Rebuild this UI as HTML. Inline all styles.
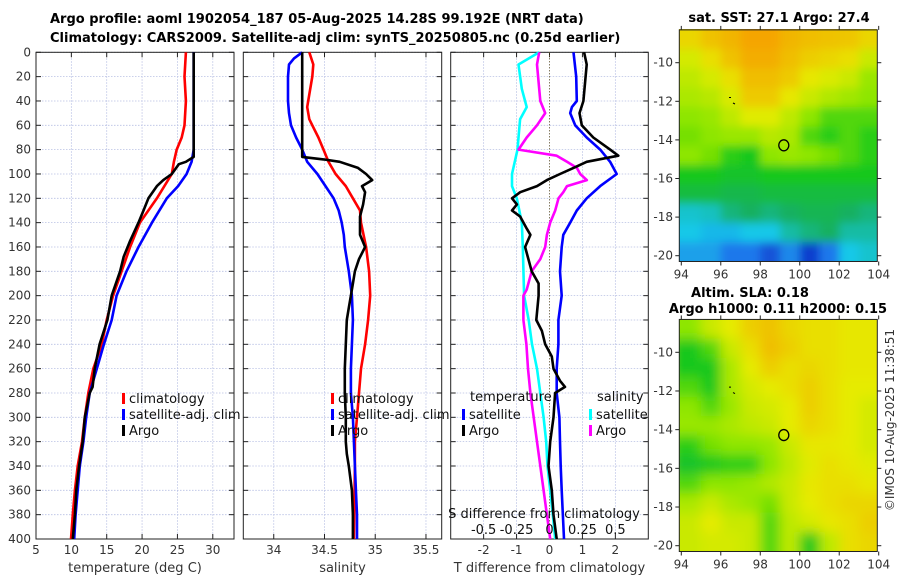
<!DOCTYPE html>
<html><head><meta charset="utf-8"><style>
html,body{margin:0;padding:0;background:#fff;}
svg{display:block;font-family:"DejaVu Sans","Liberation Sans",sans-serif;}
</style></head><body>
<svg id="fig" width="900" height="580" viewBox="0 0 900 580" xmlns="http://www.w3.org/2000/svg">
<defs>
<filter id="blur2" x="0" y="0" width="1" height="1"><feGaussianBlur stdDeviation="6"/></filter>
<filter id="blur1" x="0" y="0" width="1" height="1"><feGaussianBlur stdDeviation="4.5"/></filter>
<clipPath id="clipM1"><rect x="679" y="29" width="198" height="232"/></clipPath>
<clipPath id="clipM2"><rect x="679" y="319" width="198" height="232"/></clipPath>
</defs>
<g font-weight="bold" font-size="13" fill="#000">
<text x="50" y="23">Argo profile: aoml 1902054_187 05-Aug-2025 14.28S 99.192E (NRT data)</text>
<text x="50" y="42">Climatology: CARS2009. Satellite-adj clim: synTS_20250805.nc (0.25d earlier)</text>
<text x="779" y="22" text-anchor="middle">sat. SST: 27.1 Argo: 27.4</text>
<text x="750" y="297" text-anchor="middle">Altim. SLA: 0.18</text>
<text x="778" y="313" text-anchor="middle">Argo h1000: 0.11 h2000: 0.15</text>
</g>
<text transform="translate(894,420) rotate(-90)" text-anchor="middle" font-size="12" fill="#333">©IMOS 10-Aug-2025 11:38:51</text>
<g id="plots"></g>
</svg>
<script>
// ---------- Panel 1: temperature ----------
const tClimDepth=[0,20,40,60,70,80,90,100,120,140,160,180,200,220,240,260,280,300,320,340,360,380,400];
const tClim=[26.2,26.0,26.2,26.0,25.6,24.9,24.5,24.2,22.1,19.7,18.3,17.1,15.9,15.0,14.3,13.1,12.4,11.9,11.5,10.9,10.5,10.2,9.95];
const tSatDepth=[0,80,90,100,110,120,140,160,180,200,220,240,260,280,300,320,340,360,380,400];
const tSat=[27.3,27.3,27.0,26.3,25.1,23.5,21.4,19.5,17.8,16.4,15.7,14.6,13.6,12.6,12.1,11.7,11.2,10.9,10.6,10.4];
const tArgoDepth=[0,86,90,92,100,105,110,120,130,140,155,168,180,200,220,240,260,275,280,300,320,340,360,380,400];
const tArgo=[27.3,27.3,26.2,25.2,24.2,23.0,22.1,20.9,20.2,19.5,18.3,17.4,16.9,15.7,15.1,14.0,13.3,13.0,12.6,11.9,11.6,11.1,10.7,10.5,10.2];
const tTicks=[5,10,15,20,25,30];
// ---------- Panel 2: salinity ----------
const sClimDepth=[0,10,20,40,45,55,60,70,80,90,100,110,120,130,140,160,180,200,220,240,260,280,300,320,340,400];
const sClim=[34.35,34.39,34.38,34.34,34.33,34.35,34.38,34.44,34.49,34.54,34.61,34.71,34.78,34.85,34.86,34.91,34.94,34.95,34.93,34.90,34.86,34.84,34.82,34.80,34.80,34.79];
const sSatDepth=[0,5,10,20,40,50,60,70,80,90,100,110,120,130,140,150,160,180,200,220,240,260,280,300,320,340,360,380,400];
const sSat=[34.28,34.20,34.15,34.14,34.14,34.15,34.17,34.22,34.28,34.33,34.43,34.51,34.59,34.64,34.67,34.69,34.70,34.74,34.77,34.78,34.77,34.76,34.76,34.78,34.79,34.80,34.81,34.82,34.82];
const sArgoDepth=[0,86,88,90,95,100,105,110,115,125,135,150,160,170,180,190,200,210,220,240,260,280,300,320,330,340,360,380,400];
const sArgo=[34.28,34.28,34.49,34.65,34.83,34.91,34.97,34.87,34.90,34.88,34.85,34.85,34.90,34.84,34.80,34.78,34.76,34.74,34.72,34.71,34.70,34.70,34.71,34.71,34.72,34.74,34.77,34.78,34.78];
const sTicks=[34,34.5,35,35.5];
// ---------- Panel 3: differences ----------
const dTArgoDepth=[0,10,40,50,60,70,80,85,90,95,100,105,110,115,120,125,130,135,145,150,160,170,180,190,200,220,229,240,250,260,270,275,280,300,320,340,360,380,400];
const dTArgo=[1.05,1.13,1.03,0.91,0.98,1.33,1.84,2.09,1.13,0.73,0.32,-0.08,-0.38,-0.89,-1.14,-0.99,-1.14,-0.89,-0.69,-0.58,-0.74,-0.64,-0.54,-0.33,-0.33,-0.40,-0.23,-0.13,0.07,0.12,0.32,0.47,0.17,0.12,0.02,-0.03,0.07,0.12,0.22];
const dTSatDepth=[0,20,40,45,50,60,70,80,90,100,110,120,130,140,150,160,180,200,220,240,260,280,300,320,340,360,400];
const dTSat=[0.73,0.81,0.83,0.68,0.63,0.78,1.13,1.54,1.84,2.04,1.54,1.13,0.83,0.63,0.42,0.37,0.32,0.37,0.27,0.27,0.22,0.22,0.30,0.32,0.34,0.37,0.44];
const dSSatDepth=[0,10,30,45,55,70,80,100,110,120,140,160,200,220,240,260,280,300,320,340,360,380,400];
const dSSat=[-0.078,-0.235,-0.21,-0.173,-0.223,-0.235,-0.243,-0.285,-0.285,-0.248,-0.21,-0.203,-0.193,-0.158,-0.133,-0.095,-0.07,-0.045,-0.025,-0.015,0.005,0.025,0.043];
const dSArgoDepth=[0,10,40,50,60,70,80,85,90,95,100,105,110,115,120,130,140,150,160,170,180,195,200,220,240,260,280,300,320,340,360,380,400];
const dSArgo=[-0.078,-0.095,-0.07,-0.033,-0.095,-0.173,-0.235,0.055,0.133,0.208,0.233,0.283,0.133,0.105,0.068,0.043,0.005,-0.02,-0.033,-0.07,-0.135,-0.173,-0.198,-0.198,-0.175,-0.163,-0.145,-0.12,-0.095,-0.07,-0.045,-0.02,0.005];
const dTTicks=[-2,-1,0,1,2];
const dSTicks=[-0.5,-0.25,0,0.25,0.5];
const dSTickLabels=["-0.5","-0.25","0","0.25","0.5"];
const depthTicks=[0,20,40,60,80,100,120,140,160,180,200,220,240,260,280,300,320,340,360,380,400];
// ---------- Maps ----------
const sstGrid=[
[0.8,0.85,0.88,0.93,0.93,0.88,0.86,0.85,0.84,0.8],
[0.72,0.78,0.85,0.9,0.9,0.86,0.82,0.8,0.78,0.7],
[0.68,0.72,0.78,0.86,0.86,0.83,0.76,0.73,0.7,0.62],
[0.65,0.67,0.73,0.83,0.83,0.76,0.7,0.66,0.63,0.6],
[0.6,0.62,0.68,0.74,0.74,0.68,0.6,0.55,0.55,0.55],
[0.58,0.6,0.62,0.62,0.67,0.65,0.55,0.52,0.55,0.52],
[0.6,0.58,0.52,0.5,0.6,0.62,0.6,0.58,0.55,0.52],
[0.5,0.5,0.48,0.48,0.5,0.5,0.5,0.5,0.5,0.5],
[0.45,0.45,0.43,0.43,0.45,0.45,0.45,0.45,0.45,0.45],
[0.32,0.33,0.38,0.4,0.38,0.4,0.42,0.42,0.4,0.38],
[0.3,0.28,0.28,0.3,0.3,0.35,0.38,0.4,0.35,0.35],
[0.25,0.25,0.2,0.2,0.15,0.22,0.12,0.2,0.3,0.32]];
const slaGrid=[
[0.6,0.7,0.75,0.82,0.85,0.8,0.78,0.78,0.76,0.76],
[0.5,0.55,0.7,0.78,0.86,0.82,0.78,0.78,0.76,0.76],
[0.5,0.5,0.65,0.75,0.82,0.78,0.8,0.78,0.76,0.76],
[0.55,0.5,0.65,0.72,0.75,0.78,0.82,0.78,0.75,0.75],
[0.6,0.55,0.62,0.7,0.72,0.75,0.82,0.78,0.75,0.72],
[0.62,0.62,0.65,0.68,0.7,0.75,0.8,0.78,0.75,0.72],
[0.52,0.58,0.6,0.6,0.62,0.7,0.76,0.76,0.75,0.72],
[0.48,0.5,0.52,0.52,0.6,0.68,0.74,0.78,0.76,0.74],
[0.55,0.6,0.6,0.62,0.66,0.7,0.76,0.78,0.78,0.76],
[0.65,0.7,0.65,0.62,0.58,0.7,0.75,0.78,0.8,0.8],
[0.7,0.75,0.7,0.7,0.55,0.68,0.72,0.76,0.78,0.82],
[0.7,0.72,0.72,0.7,0.55,0.68,0.5,0.68,0.78,0.8]];
const lonTicks=[94,96,98,100,102,104];
const latTicks=[-10,-12,-14,-16,-18,-20];
const argoLon=99.192, argoLat=-14.28;

const NS="http://www.w3.org/2000/svg";
const root=document.getElementById('plots');
function mk(tag,attrs,parent){const e=document.createElementNS(NS,tag);for(const k in attrs)e.setAttribute(k,attrs[k]);(parent||root).appendChild(e);return e;}
const Y0=52.3,Y1=539;
function yD(d){return Y0+(d/400)*(Y1-Y0);}
function lin(d0,d1,r0,r1){return v=>r0+(v-d0)/(d1-d0)*(r1-r0);}
const xT=lin(5,33.0,36,234);
const xS=lin(33.7,35.655,243.3,441.7);
const xD=lin(-3.0,3.0,450.7,648.3);
const xDS=v=>xD(v*4);

function panel(name,x0,x1,xs,ticks,tickLabels,xlabel,leftLabels){
  const g=mk('g',{});
  
  
  depthTicks.forEach(d=>{const l=mk('line',{x1:x0,x2:x1,y1:yD(d),y2:yD(d),stroke:'#b8c0e4','stroke-width':0.8,'stroke-dasharray':'1.5,1.5'},g);
    });
  ticks.forEach(t=>{const l=mk('line',{x1:xs(t),x2:xs(t),y1:Y0,y2:Y1,stroke:'#b8c0e4','stroke-width':0.8,'stroke-dasharray':'1.5,1.5'},g);
    });
  const r=mk('rect',{x:x0,y:Y0,width:x1-x0,height:Y1-Y0,fill:'none',stroke:'#222','stroke-width':1},g);
  
  depthTicks.forEach(d=>{mk('line',{x1:x0,x2:x0+5,y1:yD(d),y2:yD(d),stroke:'#222'},g);mk('line',{x1:x1-5,x2:x1,y1:yD(d),y2:yD(d),stroke:'#222'},g);
    if(leftLabels){const t=mk('text',{x:31,y:yD(d)+4,'text-anchor':'end','font-size':12,fill:'#333'},g);t.textContent=d;
      }});
  ticks.forEach((t,i)=>{mk('line',{x1:xs(t),x2:xs(t),y1:Y1-5,y2:Y1,stroke:'#222'},g);mk('line',{x1:xs(t),x2:xs(t),y1:Y0,y2:Y0+5,stroke:'#222'},g);
    const tx=mk('text',{x:xs(t),y:554,'text-anchor':'middle','font-size':12,fill:'#333'},g);tx.textContent=tickLabels[i];
    });
  const xl=mk('text',{x:(x0+x1)/2,y:572,'text-anchor':'middle','font-size':13,fill:'#333'},g);xl.textContent=xlabel;
  
  return g;
}
function series(g,name,vals,depths,xs,color,w){
  const pts=vals.map((v,i)=>xs(v).toFixed(1)+','+yD(depths[i]).toFixed(1)).join(' ');
  const p=mk('polyline',{points:pts,fill:'none',stroke:color,'stroke-width':w||2.6,'stroke-linejoin':'round'},g);
  
  
}
function legend(g,x,y,color,label,name){
  const m=mk('rect',{x:x,y:y-9,width:3,height:11,fill:color},g);
  
  
  const t=mk('text',{x:x+7,y:y+1,'font-size':13,fill:'#111'},g);t.textContent=label;
  
  
}
const g1=panel('temperature-panel',36,234,xT,tTicks,tTicks.map(String),'temperature (deg C)',true);
series(g1,'temperature-climatology-line',tClim,tClimDepth,xT,'#f00');
series(g1,'temperature-satellite-line',tSat,tSatDepth,xT,'#00f');
series(g1,'temperature-argo-line',tArgo,tArgoDepth,xT,'#000');
legend(g1,122,402,'#f00','climatology','legend-climatology');
legend(g1,122,418,'#00f','satellite-adj. clim','legend-satellite');
legend(g1,122,434,'#000','Argo','legend-argo');
const g2=panel('salinity-panel',243.3,441.7,xS,sTicks,sTicks.map(String),'salinity',false);
series(g2,'salinity-climatology-line',sClim,sClimDepth,xS,'#f00');
series(g2,'salinity-satellite-line',sSat,sSatDepth,xS,'#00f');
series(g2,'salinity-argo-line',sArgo,sArgoDepth,xS,'#000');
legend(g2,331,402,'#f00','climatology','legend-climatology');
legend(g2,331,418,'#00f','satellite-adj. clim','legend-satellite');
legend(g2,331,434,'#000','Argo','legend-argo');
const g3=panel('difference-panel',450.7,648.3,xD,dTTicks,dTTicks.map(String),'T difference from climatology',false);
const z=mk('line',{x1:xD(0),x2:xD(0),y1:Y0,y2:Y1,stroke:'#6b5a2a','stroke-width':1,'stroke-dasharray':'1,2'},g3);

series(g3,'salinity-diff-satellite-line',dSSat,dSSatDepth,xDS,'#0ff');
series(g3,'salinity-diff-argo-line',dSArgo,dSArgoDepth,xDS,'#f0f');
series(g3,'temperature-diff-satellite-line',dTSat,dTSatDepth,xD,'#00f');
series(g3,'temperature-diff-argo-line',dTArgo,dTArgoDepth,xD,'#000');
let tt=mk('text',{x:470,y:401,'font-size':13,fill:'#111'},g3);tt.textContent='temperature';

tt=mk('text',{x:597,y:401,'font-size':13,fill:'#111'},g3);tt.textContent='salinity';

legend(g3,462,418,'#00f','satellite','legend-t-satellite');
legend(g3,462,434,'#000','Argo','legend-t-argo');
legend(g3,589,418,'#0ff','satellite','legend-s-satellite');
legend(g3,589,434,'#f0f','Argo','legend-s-argo');
tt=mk('text',{x:544,y:518,'text-anchor':'middle','font-size':13,fill:'#111'},g3);tt.textContent='S difference from climatology';

dSTicks.forEach((t,i)=>{const e=mk('text',{x:xDS(t),y:534,'text-anchor':'middle','font-size':13,fill:'#111'},g3);e.textContent=dSTickLabels[i];
  });

const cstops=[[0.08,[10,30,190]],[0.2,[30,120,235]],[0.3,[24,200,232]],[0.4,[18,176,96]],[0.5,[20,200,30]],[0.6,[142,230,0]],[0.75,[230,235,0]],[0.92,[245,165,0]]];
function cmap(v){if(v<=cstops[0][0])return 'rgb('+cstops[0][1]+')';
  for(let i=1;i<cstops.length;i++){if(v<=cstops[i][0]){const a=cstops[i-1],b=cstops[i],f=(v-a[0])/(b[0]-a[0]);
    return 'rgb('+a[1].map((c,k)=>Math.round(c+(b[1][k]-c)*f)).join(',')+')';}}
  return 'rgb('+cstops[cstops.length-1][1]+')';}
function map(name,grid,top,bot,clip,filt){
  const g=mk('g',{});
  
  
  const lonX=lin(94,104,681.3,878.7);
  const latY=lin(-10,-20,top,bot);
  const y0=latY(-8.3);
  const inner=mk('g',{'clip-path':'url(#'+clip+')'},g);
  const cells=mk('g',{filter:'url(#'+filt+')'},inner);
  mk('rect',{x:660,y:y0-20,width:240,height:latY(-20.3)-y0+40,fill:cmap(grid[6][5])},cells);
  grid.forEach((row,r)=>row.forEach((v,c)=>{
    const x=lonX(94+c)-(c===0?12:0), y=latY(-8.3-r)-(r===0?12:0);
    const w=lonX(95+c)-lonX(94+c)+(c===0?12:0)+(c===9?12:0)+0.5;
    const h=latY(-9.3-r)-latY(-8.3-r)+(r===0?12:0)+(r===11?12:0)+0.5;
    const cell=mk('rect',{x:x,y:y,width:w,height:h,fill:cmap(v)},cells);
    
    
  }));
  const fr=mk('rect',{x:679.3,y:y0,width:198,height:latY(-20.3)-y0,fill:'none',stroke:'#222'},g);
  
  const yb=latY(-20.3);
  lonTicks.forEach(l=>{mk('line',{x1:lonX(l),x2:lonX(l),y1:yb,y2:yb+4,stroke:'#222'},g);mk('line',{x1:lonX(l),x2:lonX(l),y1:y0-4,y2:y0,stroke:'#222'},g);
    const t=mk('text',{x:lonX(l),y:yb+17,'text-anchor':'middle','font-size':12,fill:'#333'},g);t.textContent=l;
    });
  latTicks.forEach(l=>{mk('line',{x1:675.3,x2:679.3,y1:latY(l),y2:latY(l),stroke:'#222'},g);mk('line',{x1:877.3,x2:881.3,y1:latY(l),y2:latY(l),stroke:'#222'},g);
    const t=mk('text',{x:673,y:latY(l)+4,'text-anchor':'end','font-size':12,fill:'#333'},g);t.textContent=l;
    });
  const c=mk('ellipse',{cx:lonX(argoLon),cy:latY(argoLat),rx:5,ry:5.5,fill:'none',stroke:'#000','stroke-width':1.3},g);
  
  mk('path',{d:'M729 97.5 h2 M733 103 l2 1',stroke:'#000','stroke-width':1,transform:'translate(0,'+(top-62.7)+')'},g);
}
map('sst-map',sstGrid,62.7,255.7,'clipM1','blur1');
map('sla-map',slaGrid,352.3,545.7,'clipM2','blur2');
</script>
</body></html>
